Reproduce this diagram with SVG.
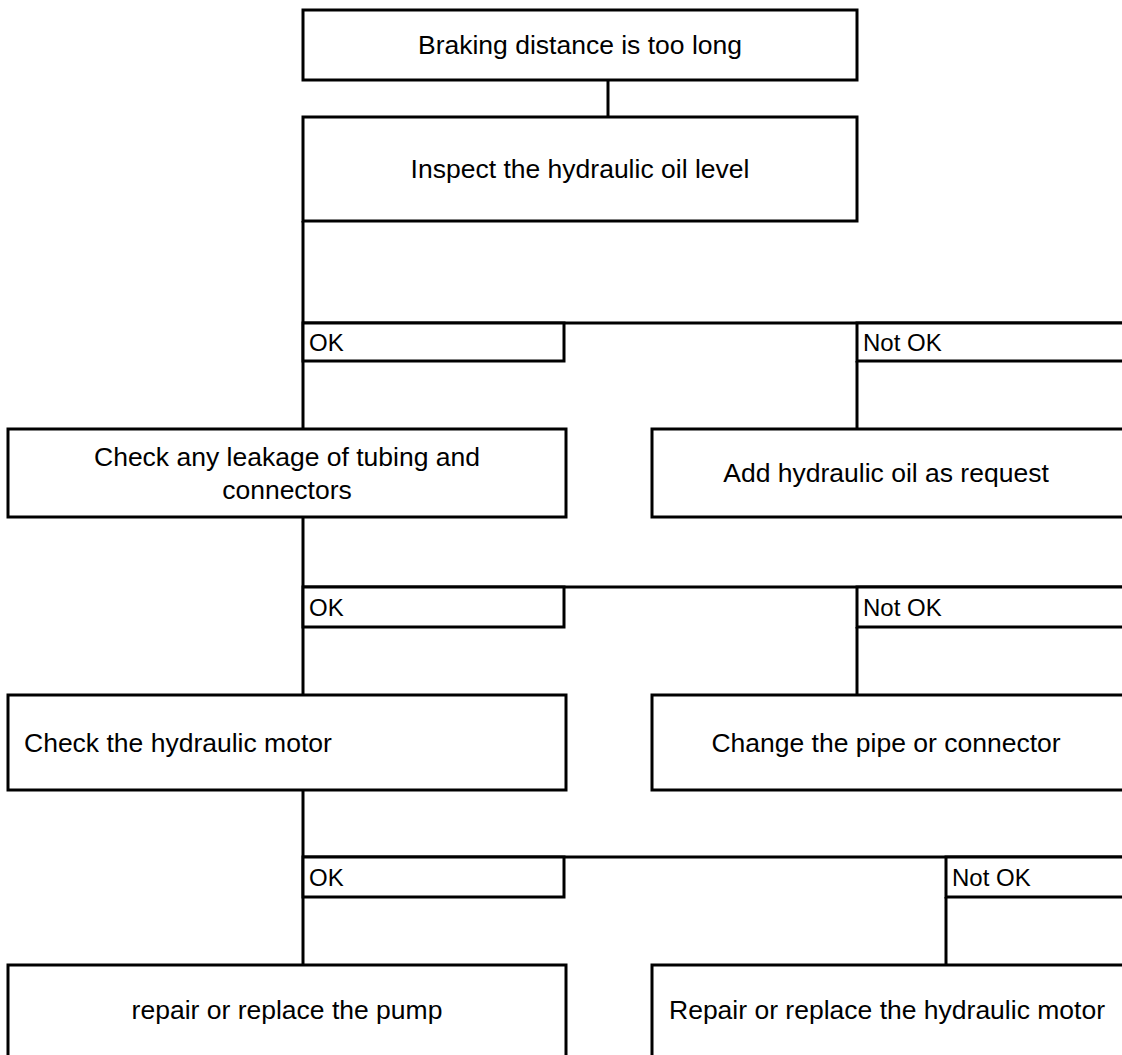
<svg xmlns="http://www.w3.org/2000/svg" width="1122" height="1055" viewBox="0 0 1122 1055">
<style>
.box{fill:#fff;stroke:#000;stroke-width:3}
.ln{fill:none;stroke:#000;stroke-width:3}
.t{font-family:"Liberation Sans",Arial,sans-serif;font-size:26.5px;fill:#000}
.c{text-anchor:middle}
.l{font-family:"Liberation Sans",Arial,sans-serif;font-size:24px;fill:#000}
</style>
<rect width="1122" height="1055" fill="#fff"/>
<g id="connectors">
<line class="ln" x1="608" y1="80" x2="608" y2="117"/>
<line class="ln" x1="303" y1="221" x2="303" y2="429"/>
<line class="ln" x1="303" y1="323" x2="1124" y2="323"/>
<line class="ln" x1="857" y1="361" x2="857" y2="429"/>
<line class="ln" x1="303" y1="517" x2="303" y2="695"/>
<line class="ln" x1="303" y1="587" x2="1124" y2="587"/>
<line class="ln" x1="857" y1="627" x2="857" y2="695"/>
<line class="ln" x1="303" y1="790" x2="303" y2="965"/>
<line class="ln" x1="303" y1="857" x2="1124" y2="857"/>
<line class="ln" x1="946" y1="897" x2="946" y2="965"/>
</g>
<g id="n1"><rect class="box" x="303" y="10" width="554" height="70"/><text class="t c" x="580" y="54">Braking distance is too long</text></g>
<g id="n2"><rect class="box" x="303" y="117" width="554" height="104"/><text class="t c" x="580" y="178">Inspect the hydraulic oil level</text></g>
<g id="ok1"><rect class="box" x="303" y="323" width="261" height="38"/><text class="l" x="309" y="351">OK</text></g>
<g id="nok1"><rect class="box" x="857" y="323" width="270" height="38"/><text class="l" x="863" y="351">Not OK</text></g>
<g id="n3"><rect class="box" x="8" y="429" width="558" height="88"/><text class="t c" x="287" y="466">Check any leakage of tubing and</text><text class="t c" x="287" y="499">connectors</text></g>
<g id="n4"><rect class="box" x="652" y="429" width="475" height="88"/><text class="t c" x="886" y="482">Add hydraulic oil as request</text></g>
<g id="ok2"><rect class="box" x="303" y="587" width="261" height="40"/><text class="l" x="309" y="616">OK</text></g>
<g id="nok2"><rect class="box" x="857" y="587" width="270" height="40"/><text class="l" x="863" y="616">Not OK</text></g>
<g id="n5"><rect class="box" x="8" y="695" width="558" height="95"/><text class="t" x="24" y="752">Check the hydraulic motor</text></g>
<g id="n6"><rect class="box" x="652" y="695" width="475" height="95"/><text class="t c" x="886" y="752">Change the pipe or connector</text></g>
<g id="ok3"><rect class="box" x="303" y="857" width="261" height="40"/><text class="l" x="309" y="886">OK</text></g>
<g id="nok3"><rect class="box" x="946" y="857" width="181" height="40"/><text class="l" x="952" y="886">Not OK</text></g>
<g id="n7"><rect class="box" x="8" y="965" width="558" height="100"/><text class="t c" x="287" y="1019">repair or replace the pump</text></g>
<g id="n8"><rect class="box" x="652" y="965" width="475" height="100"/><text class="t c" x="887" y="1019">Repair or replace the hydraulic motor</text></g>
</svg>
